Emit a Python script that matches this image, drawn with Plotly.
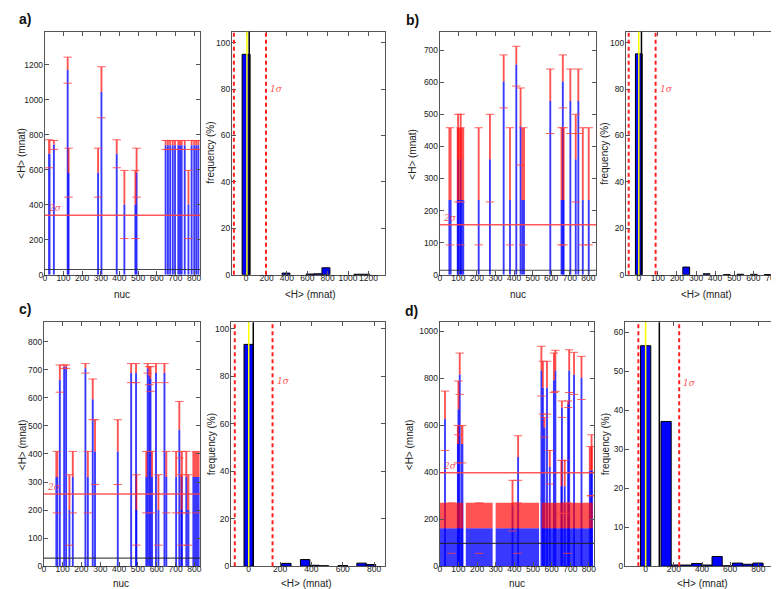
import plotly.graph_objects as go

# ---------------- data ----------------
# left panels: nucleotide range, mean <H>, upper / lower error cap (mnat)
a_start = [18, 44, 121, 126, 282, 300, 382, 424, 484, 490, 645, 658, 670, 684, 696, 711, 748, 768, 785, 799, 810, 820]
a_end = [30, 53, 124, 129, 289, 307, 389, 429, 487, 494, 650, 662, 674, 688, 700, 738, 752, 772, 789, 803, 814, 826]
a_mean = [692, 743, 1172, 584, 584, 1046, 692, 402, 402, 584, 741, 741, 741, 741, 741, 741, 741, 402, 741, 741, 741, 741]
a_top = [772, 768, 1245, 724, 724, 1190, 772, 597, 597, 724, 768, 768, 768, 768, 768, 768, 768, 597, 768, 768, 768, 768]
a_low = [612, 717, 1096, 444, 444, 898, 612, 207, 207, 444, 717, 717, 717, 717, 717, 717, 717, 207, 717, 717, 717, 717]

b_start = [47, 92, 97, 111, 207, 268, 341, 376, 409, 432, 440, 593, 653, 660, 664, 701, 730, 744, 768, 800]
b_end = [63, 131, 100, 114, 212, 272, 347, 380, 415, 438, 458, 597, 658, 665, 670, 705, 734, 748, 772, 804]
b_mean = [233, 233, 360, 360, 233, 360, 602, 233, 655, 463, 233, 541, 233, 602, 233, 541, 360, 541, 233, 233]
b_top = [458, 458, 500, 500, 458, 500, 685, 458, 712, 582, 458, 641, 458, 685, 458, 641, 500, 641, 458, 458]
b_low = [93, 93, 227, 227, 93, 227, 520, 93, 588, 342, 93, 440, 93, 520, 93, 440, 227, 440, 93, 93]

c_start = [62, 82, 106, 116, 134, 152, 219, 232, 258, 270, 391, 462, 488, 490, 540, 550, 558, 564, 573, 594,
           607, 639, 648, 701, 718, 727, 730, 754, 762, 790]
c_end = [76, 88, 110, 121, 138, 156, 223, 236, 262, 274, 395, 466, 492, 494, 549, 554, 563, 570, 577, 598,
         611, 643, 654, 705, 722, 738, 734, 760, 773, 827]
c_mean = [318, 664, 711, 711, 200, 318, 705, 318, 595, 409, 409, 688, 688, 200, 318, 705, 679, 667, 318, 688,
          200, 688, 318, 318, 486, 318, 200, 318, 200, 318]
c_top = [409, 717, 717, 717, 326, 409, 722, 409, 667, 522, 522, 722, 722, 326, 409, 722, 711, 711, 409, 722,
         326, 722, 409, 409, 587, 409, 326, 409, 326, 409]
c_low = [190, 620, 705, 705, 75, 190, 688, 190, 522, 291, 291, 654, 654, 75, 190, 688, 647, 623, 190, 654,
         75, 654, 190, 190, 386, 190, 75, 190, 75, 190]

d_start = [0, 140, 300, 547, 26, 94, 96, 105, 114, 388, 418, 543, 551, 556, 573, 588, 610, 618, 650, 653,
           668, 686, 692, 718, 758, 800, 812]
d_end = [125, 283, 532, 820, 30, 100, 104, 109, 126, 392, 422, 547, 555, 566, 577, 592, 614, 622, 654, 657,
         672, 690, 696, 722, 762, 820, 816]
d_mean = [162, 162, 162, 162, 627, 521, 669, 817, 521, 260, 465, 834, 760, 591, 760, 423, 792, 834, 341, 676,
          341, 690, 834, 817, 803, 408, 408]
d_top = [270, 270, 270, 270, 746, 599, 789, 908, 599, 366, 556, 937, 873, 634, 873, 493, 908, 920, 451, 704,
         451, 704, 922, 911, 894, 510, 560]
d_low = [55, 55, 55, 55, 493, 440, 560, 732, 440, 150, 366, 725, 648, 550, 648, 350, 740, 745, 225, 634,
         225, 676, 740, 732, 710, 300, 300]

# reference lines: mean, 2 sigma level, mean-sigma, mean+sigma, median
a_marks = [30, 340, -120, 195, 8]
b_marks = [14, 156, -53, 88, 0]
c_marks = [29, 257, -89, 152, 0]
d_marks = [97, 398, -52, 238, 0]

# histograms: bin centre (mnat), frequency (%)
a_hist_x = [0, 391.5, 626.4, 704.7, 783, 1096.2, 1174.5]
a_hist_y = [95, 0.7, 0.3, 0.4, 3.0, 0.2, 0.2]
a_bin = 78.3
b_hist_x = [0, 248.5, 355, 461, 532, 603, 674]
b_hist_y = [95.2, 3.3, 0.4, 0.1, 0.2, 0.15, 0.1]
b_bin = 35.5
c_hist_x = [0, 240, 360, 420, 480, 600, 720, 780]
c_hist_y = [93.5, 1.2, 2.8, 0.4, 0.2, 0.3, 1.3, 0.7]
c_bin = 60
d_hist_x = [0, 145, 217.5, 290, 362.5, 435, 507.5, 580, 652.5, 725, 797.5]
d_hist_y = [56.5, 37.1, 0.3, 0.3, 0.7, 0.3, 2.5, 0.1, 0.8, 0.5, 0.8]
d_bin = 72.5

# ---------------- layout ----------------
W, H = 779, 589
FONT = 'Liberation Sans, Arial, sans-serif'
BLUE = 'rgba(0,0,255,0.78)'
RED = 'rgba(255,0,0,0.68)'

top_row = [1 - 269 / H, 1 - 24 / H]
bot_row = [1 - 563 / H, 1 - 317 / H]

# (x domain px, y domain, x range, y range, x dtick, y dtick)
axes = [
    ((35, 191), top_row, [0, 832], [0, 1390], 100, 200),
    ((223, 377), top_row, [-140, 1363], [0, 104.7], 200, 20),
    ((432, 589), top_row, [0, 841], [0, 757], 100, 100),
    ((619, 774), top_row, [-68, 740], [0, 104.7], 100, 20),
    ((34, 191), bot_row, [0, 830], [0, 869], 100, 100),
    ((222, 377), bot_row, [-114, 870], [0, 102.8], 200, 20),
    ((432, 587), bot_row, [0, 827], [0, 1039], 100, 200),
    ((618, 774), bot_row, [-148, 954], [0, 62.5], 200, 10),
]

fig = go.Figure()
layout = dict(width=W, height=H, margin=dict(l=0, r=0, t=0, b=0),
              paper_bgcolor='white', plot_bgcolor='white', showlegend=False,
              barmode='overlay', font=dict(family=FONT, color='#222'))
for i, (xd, yd, xr, yr, xdt, ydt) in enumerate(axes, start=1):
    common = dict(showgrid=False, zeroline=False, showline=True, mirror='ticks',
                  linecolor='#555', linewidth=1, ticks='inside', ticklen=4,
                  tickcolor='#555', tickfont=dict(size=8.5, color='#222'), tickangle=0)
    layout[f'xaxis{i}'] = dict(domain=[xd[0] / W, xd[1] / W], range=xr, dtick=xdt, tick0=0,
                               anchor=f'y{i}', ticklabelstandoff=-5, **common)
    layout[f'yaxis{i}'] = dict(domain=yd, range=yr, dtick=ydt, tick0=0,
                               anchor=f'x{i}', ticklabelstandoff=-1, **common)
fig.update_layout(**layout)

shapes = []
annotations = []


def ax_names(n):
    return ('x' if n == 1 else f'x{n}'), ('y' if n == 1 else f'y{n}')


def nuc_panel(n, start, end, mean, top, low, marks):
    xa, ya = ax_names(n)
    xc = [(s + e) / 2 for s, e in zip(start, end)]
    wd = [max(e - s + 1, 10) for s, e in zip(start, end)]
    fig.add_bar(x=xc, y=mean, width=wd, marker=dict(color=BLUE, line=dict(width=0)),
                xaxis=xa, yaxis=ya)
    fig.add_bar(x=xc, y=[t - m for t, m in zip(top, mean)], base=mean, width=wd,
                marker=dict(color=RED, line=dict(width=0)), xaxis=xa, yaxis=ya)
    fig.add_scatter(x=xc + xc, y=top + low, mode='markers',
                    marker=dict(symbol='line-ew', size=6, line=dict(width=1, color='rgba(255,60,60,0.8)')),
                    xaxis=xa, yaxis=ya)
    mean_line, two_sig = marks[0], marks[1]
    shapes.append(dict(type='line', xref=f'{xa} domain', yref=ya, x0=0, x1=1, y0=two_sig, y1=two_sig,
                       line=dict(color='rgba(255,60,60,0.85)', width=1.5)))
    shapes.append(dict(type='line', xref=f'{xa} domain', yref=ya, x0=0, x1=1, y0=mean_line, y1=mean_line,
                       line=dict(color='rgba(30,30,30,0.8)', width=1.2)))
    annotations.append(dict(text='<i>2σ</i>', xref=f'{xa} domain', yref=ya, x=0.01, y=two_sig,
                            xanchor='left', yanchor='bottom', showarrow=False,
                            font=dict(family='DejaVu Serif', size=9, color='rgba(255,60,60,0.9)')))


def hist_panel(n, hx, hy, bw, marks, label_y):
    xa, ya = ax_names(n)
    fig.add_bar(x=hx, y=hy, width=bw, marker=dict(color='#0000ff', line=dict(color='black', width=1)),
                xaxis=xa, yaxis=ya)
    mean_line, _, s_lo, s_hi, med = marks
    for xv, col, dash, wdt in [(s_lo, '#ff2020', '4px,3px', 2), (s_hi, '#ff2020', '4px,3px', 2),
                               (mean_line, 'black', 'solid', 1.5), (med, '#ffff00', 'solid', 1.5)]:
        shapes.append(dict(type='line', xref=xa, yref=f'{ya} domain', x0=xv, x1=xv, y0=0, y1=1,
                           line=dict(color=col, width=wdt, dash=dash)))
    annotations.append(dict(text='<i>1σ</i>', xref=xa, yref=ya, x=s_hi, y=label_y,
                            xanchor='left', yanchor='middle', xshift=2, showarrow=False,
                            font=dict(family='DejaVu Serif', size=9, color='rgba(255,60,60,0.9)')))


nuc_panel(1, a_start, a_end, a_mean, a_top, a_low, a_marks)
hist_panel(2, a_hist_x, a_hist_y, a_bin, a_marks, 80)
nuc_panel(3, b_start, b_end, b_mean, b_top, b_low, b_marks)
hist_panel(4, b_hist_x, b_hist_y, b_bin, b_marks, 80)
nuc_panel(5, c_start, c_end, c_mean, c_top, c_low, c_marks)
hist_panel(6, c_hist_x, c_hist_y, c_bin, c_marks, 78)
nuc_panel(7, d_start, d_end, d_mean, d_top, d_low, d_marks)
hist_panel(8, d_hist_x, d_hist_y, d_bin, d_marks, 47)


# axis titles and panel letters (pixel positions)
def paper_text(text, x, y, size=10, angle=0, bold=False):
    annotations.append(dict(text=f'<b>{text}</b>' if bold else text, xref='paper', yref='paper',
                            x=x / W, y=1 - y / H, showarrow=False, textangle=angle,
                            xanchor='center', yanchor='middle',
                            font=dict(family=FONT, size=size, color='#111' if bold else '#222')))


for cx, cy in [(113, 289), (112, 580), (511, 289), (510, 580)]:
    paper_text('nuc', cx, cy)
for cx, cy in [(302, 289), (298, 580), (700, 289), (696, 580)]:
    paper_text('&lt;H&gt; (mnat)', cx, cy)
for cx, cy in [(12, 146), (12, 440), (405, 147), (401, 440)]:
    paper_text('&lt;H&gt; (mnat)', cx, cy, angle=-90)
for cx, cy in [(202, 146), (202, 440), (598, 147), (598, 440)]:
    paper_text('frequency (%)', cx, cy, angle=-90)
for t, cx, cy in [('a)', 15, 11), ('b)', 405, 12), ('c)', 15, 304), ('d)', 404, 306)]:
    paper_text(t, cx, cy, size=14, bold=True)

fig.update_layout(shapes=shapes, annotations=annotations)
fig.write_html('out.html')
